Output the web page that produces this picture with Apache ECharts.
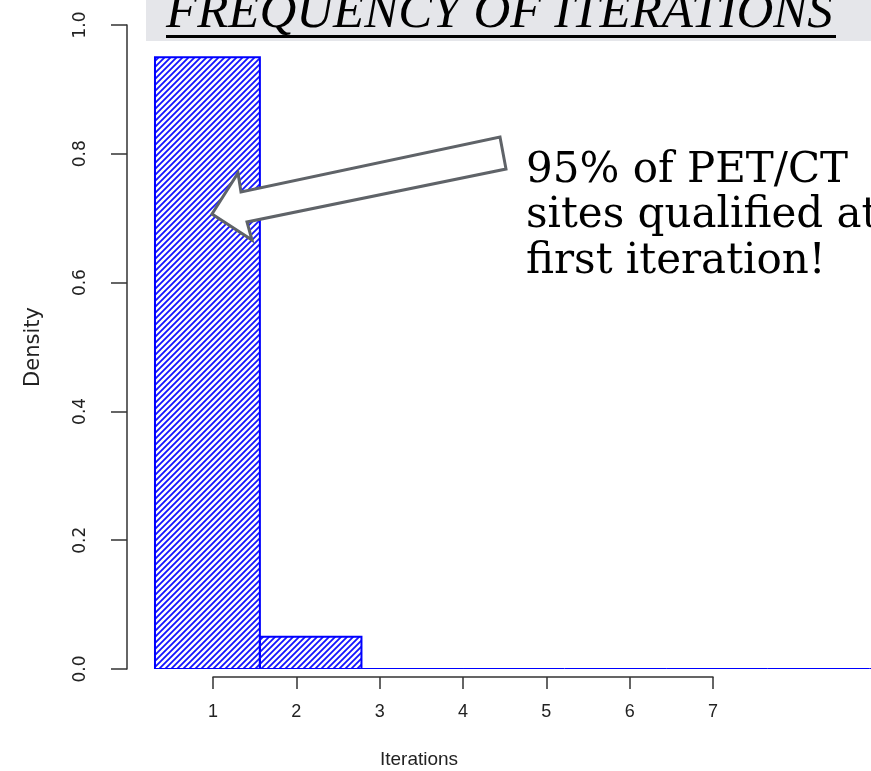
<!DOCTYPE html>
<html><head><meta charset="utf-8">
<script src="https://cdn.jsdelivr.net/npm/echarts@6/dist/echarts.min.js"></script>
<style>html,body{margin:0;padding:0;background:#fff}#c{width:871px;height:771px}</style>
</head><body><div id="c"></div>
<script>
// ---- data ----
const binBreaks = [0.3, 1.56, 2.78, 4.0, 5.22, 6.44, 7.66, 8.88, 10.1];
const densities = [0.95, 0.05, 0, 0, 0, 0, 0, 0];
const xTickMin = 1, xTickMax = 7, xTickStep = 1;
const yTickMin = 0, yTickMax = 1, yTickStep = 0.2;
const titleText = 'FREQUENCY OF ITERATIONS';
const noteLines = ['95% of PET/CT', 'sites qualified at', 'first iteration!'];
const xName = 'Iterations';
const yName = 'Density';

const histData = densities.map((d, i) => [binBreaks[i], binBreaks[i + 1], d]);

function hatch() {
  const s = 6, c = document.createElement('canvas');
  c.width = s; c.height = s;
  const g = c.getContext('2d');
  g.strokeStyle = '#1414ff'; g.lineWidth = 1.8;
  g.beginPath();
  g.moveTo(-1, s + 1); g.lineTo(s + 1, -1);
  g.moveTo(-1, 1); g.lineTo(1, -1);
  g.moveTo(s - 1, s + 1); g.lineTo(s + 1, s - 1);
  g.stroke();
  return c;
}
const pat = hatch();

const chart = echarts.init(document.getElementById('c'), null, {renderer: 'canvas'});
const axisCol = '#333';
const labCol = '#222';
const sans = 'Liberation Sans';
const wideSans = 'DejaVu Sans';
const noteFont = '42px "DejaVu Serif"';

chart.setOption({
  animation: false,
  backgroundColor: '#fff',
  grid: [
    {left: 130, right: 0, top: 25, height: 644},
    {left: 213, width: 500, top: 676, height: 1},
    {left: 127, width: 1, top: 25, height: 644}
  ],
  xAxis: [
    {gridIndex: 0, type: 'value', min: 0, max: 8.9, show: false},
    {gridIndex: 1, type: 'value', min: xTickMin, max: xTickMax, interval: xTickStep,
      axisLine: {show: true, lineStyle: {color: axisCol, width: 1.5}},
      axisTick: {show: true, length: 12, lineStyle: {color: axisCol, width: 1.5}},
      axisLabel: {show: true, margin: 26, fontSize: 18, fontFamily: sans, color: labCol},
      splitLine: {show: false}},
    {gridIndex: 2, type: 'value', show: false}
  ],
  yAxis: [
    {gridIndex: 0, type: 'value', min: 0, max: 1, show: false},
    {gridIndex: 1, type: 'value', show: false},
    {gridIndex: 2, type: 'value', min: yTickMin, max: yTickMax, interval: yTickStep, position: 'left',
      axisLine: {show: true, lineStyle: {color: axisCol, width: 1.5}},
      axisTick: {show: true, length: 16, lineStyle: {color: axisCol, width: 1.5}},
      axisLabel: {show: true, rotate: 90, margin: 38, fontSize: 17, fontFamily: wideSans, color: labCol,
        formatter: v => v.toFixed(1)},
      splitLine: {show: false},
      name: yName, nameLocation: 'middle', nameRotate: 90, nameGap: 83,
      nameTextStyle: {fontSize: 21, fontFamily: wideSans, color: labCol}}
  ],
  series: [{
    type: 'custom', xAxisIndex: 0, yAxisIndex: 0, clip: true,
    data: histData,
    encode: {x: [0, 1], y: 2},
    renderItem: function (params, api) {
      const p0 = api.coord([api.value(0), api.value(2)]);
      const p1 = api.coord([api.value(1), 0]);
      return {
        type: 'rect',
        shape: {x: p0[0], y: p0[1], width: p1[0] - p0[0], height: p1[1] - p0[1]},
        style: {fill: {image: pat, repeat: 'repeat'}, stroke: '#0000ff', lineWidth: 2}
      };
    }
  }],
  graphic: [
    {type: 'rect', left: 146, top: 0, z: 1, shape: {width: 725, height: 41}, style: {fill: '#e5e6ea'}},
    {type: 'text', x: 166, y: 14, z: 2, style: {text: titleText, fill: '#000',
      font: 'italic 51px "Liberation Serif"', verticalAlign: 'middle', align: 'left'}},
    {type: 'rect', x: 166, y: 35, z: 2, shape: {width: 670, height: 3}, style: {fill: '#000'}},
    {type: 'polygon', z: 10, shape: {points: [[212, 214], [238, 173], [241, 192], [500, 137], [506, 169], [247, 222], [252, 240]]},
      style: {fill: '#fff', stroke: '#5f6368', lineWidth: 3, lineJoin: 'miter'}},
    {type: 'text', x: 526, y: 171, z: 10, style: {text: noteLines[0], fill: '#000', font: noteFont, verticalAlign: 'middle'}},
    {type: 'text', x: 526, y: 216, z: 10, style: {text: noteLines[1], fill: '#000', font: noteFont, verticalAlign: 'middle'}},
    {type: 'text', x: 526, y: 262, z: 10, style: {text: noteLines[2], fill: '#000', font: noteFont, verticalAlign: 'middle'}},
    {type: 'text', x: 419, y: 760, z: 10, style: {text: xName, fill: labCol, font: '19px "Liberation Sans"', verticalAlign: 'middle', align: 'center'}}
  ]
});
</script>
</body></html>
